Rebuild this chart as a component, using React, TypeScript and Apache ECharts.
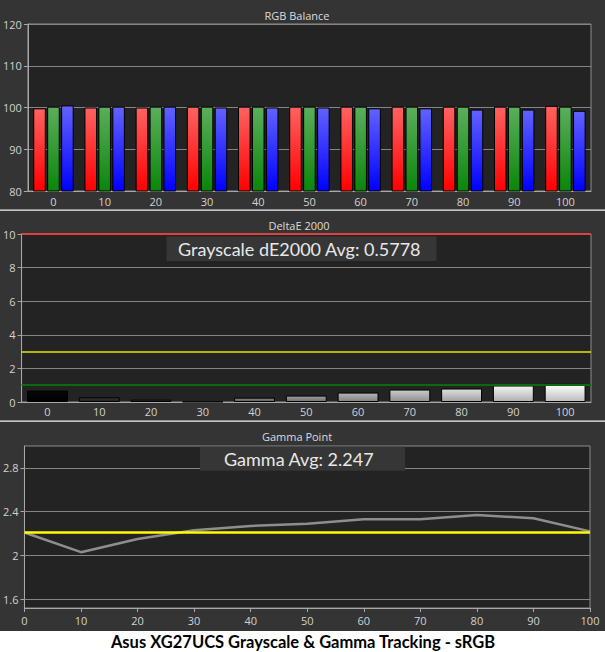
import * as echarts from "echarts"
import { useEffect, useRef } from "react"

// stimulus levels shared by the three panels
const levels = ["0", "10", "20", "30", "40", "50", "60", "70", "80", "90", "100"]

// RGB balance (%)
const rgbRed = [99.8, 100.0, 100.0, 100.2, 100.2, 100.2, 100.2, 100.2, 100.2, 100.2, 100.4]
const rgbGreen = [100.2, 100.2, 100.2, 100.2, 100.2, 100.2, 100.2, 100.2, 100.2, 100.2, 100.2]
const rgbBlue = [100.5, 100.2, 100.2, 100.0, 100.0, 100.0, 99.8, 99.8, 99.5, 99.5, 99.2]

// grayscale dE2000 per level
const deltaE = [0.68, 0.28, 0.14, 0.02, 0.26, 0.38, 0.56, 0.74, 0.8, 0.98, 1.08]
const deltaAvg = "0.5778"

// gamma per level
const gammaX = [0, 10, 20, 30, 40, 50, 60, 70, 80, 90, 100]
const gammaValues = [2.21, 2.03, 2.15, 2.23, 2.27, 2.29, 2.33, 2.33, 2.37, 2.34, 2.22]
const gammaTicks = [1.6, 2, 2.4, 2.8]
const gammaTarget = 2.21
const gammaAvg = "2.247"

const FONT = "'Open Sans', 'Noto Sans', sans-serif"
const AVG_FONT = "Lato, 'Open Sans', sans-serif"
const AXIS = "#a8a8a8"
const LABEL = "#d2d2d2"
const GRIDLINE = "#858585"

function grad(top: string, bottom: string) {
  return new echarts.graphic.LinearGradient(0, 0, 0, 1, [
    { offset: 0, color: top },
    { offset: 1, color: bottom },
  ])
}

function grayFor(level: number) {
  const s = Math.round(255 * Math.pow(level / 100, 0.75))
  const top = Math.min(255, s + 8)
  const bot = Math.round(s * 0.74)
  const hex = (n: number) => n.toString(16).padStart(2, "0")
  return grad(`#${hex(top)}${hex(top)}${hex(top)}`, `#${hex(bot)}${hex(bot)}${hex(bot)}`)
}

const catAxis = (gridIndex: number, margin: number) => ({
  gridIndex,
  type: "category",
  data: levels,
  axisLine: { lineStyle: { color: AXIS, width: 1 } },
  axisTick: { length: 4, lineStyle: { color: AXIS } },
  axisLabel: { color: LABEL, fontSize: 11, fontFamily: FONT, margin },
  splitLine: { show: false },
})

const valueY = (gridIndex: number) => ({
  gridIndex,
  type: "value",
  axisLine: { show: true, lineStyle: { color: AXIS } },
  axisTick: { show: true, length: 4, lineStyle: { color: AXIS } },
  axisLabel: { color: LABEL, fontSize: 11, fontFamily: FONT, margin: 6 },
  splitLine: { show: true, lineStyle: { color: GRIDLINE, width: 1 } },
})

const gridStyle = {
  show: true,
  backgroundColor: "#232323",
  borderColor: "#8c8c8c",
  borderWidth: 1,
}

export default function App() {
  const ref = useRef<HTMLDivElement>(null)

  useEffect(() => {
    const node = ref.current
    if (!node) return
    const chart = echarts.init(node, undefined, { renderer: "svg", width: 605, height: 652 })

    const titleText = (text: string, x: number, y: number) => ({
      type: "text",
      x,
      y,
      z: 100,
      style: {
        text,
        fill: "#dcdcdc",
        fontSize: 11,
        fontFamily: FONT,
        align: "center",
        verticalAlign: "middle",
      },
    })

    const avgBox = (text: string, x: number, y: number, w: number, h: number, tx: number) => [
      { type: "rect", z: 100, shape: { x, y, width: w, height: h }, style: { fill: "#363636" } },
      {
        type: "text",
        z: 101,
        x: tx,
        y: y + h / 2,
        style: {
          text,
          fill: "#e8e8e8",
          fontSize: 18,
          fontFamily: AVG_FONT,
          verticalAlign: "middle",
        },
      },
    ]

    chart.setOption({
      animation: false,
      backgroundColor: "#343434",
      grid: [
        { left: 26, top: 24, width: 565, height: 167, ...gridStyle },
        { left: 21, top: 234, width: 570, height: 168, ...gridStyle },
        { left: 24, top: 446, width: 566, height: 162, ...gridStyle },
      ],
      xAxis: [
        catAxis(0, 5),
        catAxis(1, 4),
        {
          gridIndex: 2,
          type: "value",
          min: 0,
          max: 100,
          interval: 10,
          axisLine: { lineStyle: { color: AXIS } },
          axisTick: { show: true, length: 4, lineStyle: { color: AXIS } },
          axisLabel: { color: LABEL, fontSize: 11, fontFamily: FONT, margin: 7 },
          splitLine: { show: false },
        },
      ],
      yAxis: [
        { ...valueY(0), min: 80, max: 120, interval: 10 },
        { ...valueY(1), min: 0, max: 10, interval: 2 },
        {
          ...valueY(2),
          min: 1.52,
          max: 3.0,
          axisTick: { show: true, length: 4, lineStyle: { color: AXIS }, customValues: gammaTicks },
          axisLabel: {
            color: LABEL,
            fontSize: 11,
            fontFamily: FONT,
            margin: 6,
            customValues: gammaTicks,
            formatter: (v: number) => String(v),
          },
          splitLine: { show: false },
        },
      ],
      series: [
        {
          type: "bar",
          xAxisIndex: 0,
          yAxisIndex: 0,
          data: rgbRed,
          barGap: "11%",
          barCategoryGap: "21%",
          itemStyle: { color: grad("#ff6262", "#ff0000"), borderColor: "#000", borderWidth: 1 },
        },
        {
          type: "bar",
          xAxisIndex: 0,
          yAxisIndex: 0,
          data: rgbGreen,
          barGap: "11%",
          barCategoryGap: "21%",
          itemStyle: { color: grad("#5cae5c", "#0a860a"), borderColor: "#000", borderWidth: 1 },
        },
        {
          type: "bar",
          xAxisIndex: 0,
          yAxisIndex: 0,
          data: rgbBlue,
          barGap: "11%",
          barCategoryGap: "21%",
          itemStyle: { color: grad("#6262ff", "#0000ff"), borderColor: "#000", borderWidth: 1 },
        },
        {
          type: "bar",
          xAxisIndex: 1,
          yAxisIndex: 1,
          barCategoryGap: "21%",
          data: deltaE.map((v, i) => ({
            value: v,
            itemStyle: { color: grayFor(Number(levels[i])), borderColor: "#000", borderWidth: 1 },
          })),
          markLine: {
            silent: true,
            symbol: ["none", "none"],
            label: { show: false },
            data: [
              { yAxis: 10, lineStyle: { color: "#dc4242", width: 2, type: "solid" } },
              { yAxis: 3, lineStyle: { color: "#e8e800", width: 1.5, type: "solid" } },
              { yAxis: 1, lineStyle: { color: "#0c6a0c", width: 2, type: "solid" } },
            ],
          },
        },
        {
          type: "line",
          xAxisIndex: 2,
          yAxisIndex: 2,
          data: gammaX.map((x, i) => [x, gammaValues[i]]),
          showSymbol: false,
          lineStyle: { color: "#8e8e8e", width: 2.5 },
          z: 3,
          markLine: {
            silent: true,
            symbol: ["none", "none"],
            label: { show: false },
            data: [
              ...gammaTicks.map((t) => ({
                yAxis: t,
                lineStyle: { color: GRIDLINE, width: 1, type: "solid" },
              })),
              { yAxis: gammaTarget, lineStyle: { color: "#ffff00", width: 2.5, type: "solid" } },
            ],
          },
        },
      ],
      graphic: [
        { type: "rect", z: 100, shape: { x: 0, y: 209.5, width: 605, height: 1.2 }, style: { fill: "#f2f2f2" } },
        { type: "rect", z: 100, shape: { x: 0, y: 420.5, width: 605, height: 1.2 }, style: { fill: "#f2f2f2" } },
        { type: "rect", z: 100, shape: { x: 0, y: 631, width: 605, height: 21 }, style: { fill: "#ffffff" } },
        titleText("RGB Balance", 297, 15),
        titleText("DeltaE 2000", 299, 225.5),
        titleText("Gamma Point", 297, 436.5),
        ...avgBox(`Grayscale dE2000 Avg: ${deltaAvg}`, 166.5, 236.5, 270, 24.5, 178),
        ...avgBox(`Gamma Avg: ${gammaAvg}`, 200, 446.7, 205, 24, 224),
        {
          type: "text",
          z: 101,
          x: 303,
          y: 641.5,
          style: {
            text: "Asus XG27UCS Grayscale & Gamma Tracking - sRGB",
            fill: "#000",
            fontSize: 16.5,
            fontWeight: "bold",
            fontFamily: AVG_FONT,
            align: "center",
            verticalAlign: "middle",
          },
        },
      ],
    })

    return () => chart.dispose()
  }, [])

  return (
    <div
      ref={ref}
      style={{ position: "fixed", left: 0, top: 0, width: 605, height: 652 }}
    />
  )
}
